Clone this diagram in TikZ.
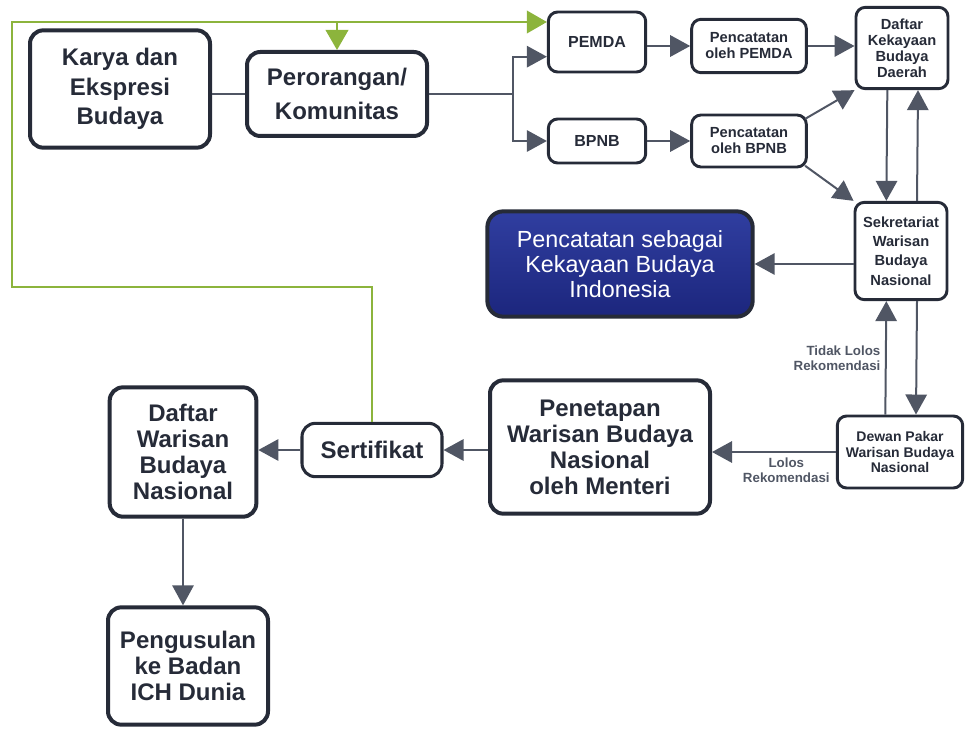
\documentclass[tikz,border=0pt]{standalone}
\usepackage{fontspec}
\setmainfont{Liberation Sans}
\usetikzlibrary{arrows.meta}
\definecolor{boxline}{RGB}{38,43,56}
\definecolor{arrowgray}{RGB}{80,86,100}
\definecolor{leafgreen}{RGB}{140,180,60}
\definecolor{navytop}{RGB}{48,62,160}
\definecolor{navybot}{RGB}{28,38,125}

\begin{document}
\begin{tikzpicture}[x=0.75pt,y=-0.75pt,->,>={Triangle[length=15pt,width=16pt]},line width=1.5pt,color=arrowgray,
  big node/.style={rectangle,rounded corners=10pt,draw=boxline,line width=3pt,align=center,text=boxline,font=\bfseries\fontsize{18}{19.5}\selectfont},
  small node/.style={rectangle,rounded corners=7pt,draw=boxline,line width=2.2pt,align=center,text=boxline,font=\bfseries\fontsize{11}{12}\selectfont},
  note/.style={text=arrowgray,align=center,font=\bfseries\fontsize{10}{11.25}\selectfont},
  green line/.style={draw=leafgreen,line width=1.2pt,>={Triangle[length=15pt,width=17pt]}}]
  \useasboundingbox (0,0) rectangle (974,731);

  \node[big node,minimum width=135pt,minimum height=88pt,font=\bfseries\fontsize{18}{22}\selectfont] (karya) at (120,89) {Karya dan\\Ekspresi\\Budaya};
  \node[big node,minimum width=135pt,minimum height=63pt,font=\bfseries\fontsize{18}{25}\selectfont] (orang) at (337,94) {Perorangan/\\Komunitas};
  \node[small node,minimum width=73pt,minimum height=45pt,font=\bfseries\fontsize{12}{13}\selectfont] (pemda) at (597,42) {PEMDA};
  \node[small node,minimum width=73pt,minimum height=33pt,font=\bfseries\fontsize{12}{13}\selectfont] (bpnb) at (597,141) {BPNB};
  \node[small node,minimum width=86pt,minimum height=40pt] (cpemda) at (749,46) {Pencatatan\\oleh PEMDA};
  \node[small node,minimum width=86pt,minimum height=39pt] (cbpnb) at (749,141) {Pencatatan\\oleh BPNB};
  \node[small node,minimum width=69pt,minimum height=61pt] (kbd) at (902,48) {Daftar\\Kekayaan\\Budaya\\Daerah};
  \node[small node,minimum width=69pt,minimum height=73pt,font=\bfseries\fontsize{11}{14.5}\selectfont] (sekre) at (901,251) {Sekretariat\\Warisan\\Budaya\\Nasional};
  \node[rectangle,rounded corners=12pt,draw=boxline,line width=3pt,top color=navytop,bottom color=navybot,text=white,align=center,
        minimum width=199pt,minimum height=79pt,font=\fontsize{17.5}{19}\selectfont] (kbi) at (620,264) {Pencatatan sebagai\\Kekayaan Budaya\\Indonesia};
  \node[small node,minimum width=94pt,minimum height=54pt,font=\bfseries\fontsize{10.5}{11.5}\selectfont] (dewan) at (900,452) {Dewan Pakar\\Warisan Budaya\\Nasional};
  \node[big node,minimum width=165pt,minimum height=100pt] (tetap) at (600,447) {Penetapan\\Warisan Budaya\\Nasional\\oleh Menteri};
  \node[big node,line width=2.3pt,minimum width=105pt,minimum height=40pt] (sert) at (372,450) {Sertifikat};
  \node[big node,minimum width=110pt,minimum height=97pt] (wbn) at (183,452) {Daftar\\Warisan\\Budaya\\Nasional};
  \node[big node,minimum width=120pt,minimum height=88pt] (ich) at (188,666) {Pengusulan\\ke Badan\\ICH Dunia};

  % usulan dari perorangan/komunitas
  \coordinate (s) at (513,94);
  \draw[-] (karya.east |- orang) -- (orang) -- (s);
  \draw (s) |- ([yshift=-11pt]pemda.west);
  \draw (s) |- (bpnb);

  \path
    (pemda.east |- cpemda) edge (cpemda)
    (cpemda) edge (kbd.west |- cpemda)
    (bpnb) edge (cbpnb)
    ([xshift=-2pt,yshift=-4pt]cbpnb.north east) edge (kbd.south west)
    ([xshift=-2pt,yshift=2pt]cbpnb.south east) edge (sekre.north west)
    ([xshift=-11pt]kbd.south) edge ([xshift=-11pt]sekre.north)
    ([xshift=12pt]sekre.north) edge ([xshift=12pt]kbd.south)
    (sekre.west |- kbi) edge (kbi)
    ([xshift=12pt]sekre.south) edge ([xshift=12pt]dewan.north)
    ([xshift=-11pt]dewan.north) edge node[note,left,align=right] {Tidak Lolos\\Rekomendasi} ([xshift=-11pt]sekre.south)
    (dewan.west) edge node[note,below,pos=0.4] {Lolos\\Rekomendasi} (tetap.east |- dewan.west)
    (tetap.west |- sert) edge (sert)
    (sert) edge (wbn.east |- sert)
    (wbn) edge (wbn |- ich.north)
  ;

  % sertifikat kembali ke pengusul
  \coordinate (g) at (12,22);
  \draw[green line] (sert.north) |- (12,287) -- (g) -- (g -| pemda.west);
  \draw[green line] (g -| orang.north) -- (orang.north);

\end{tikzpicture}
\end{document}
